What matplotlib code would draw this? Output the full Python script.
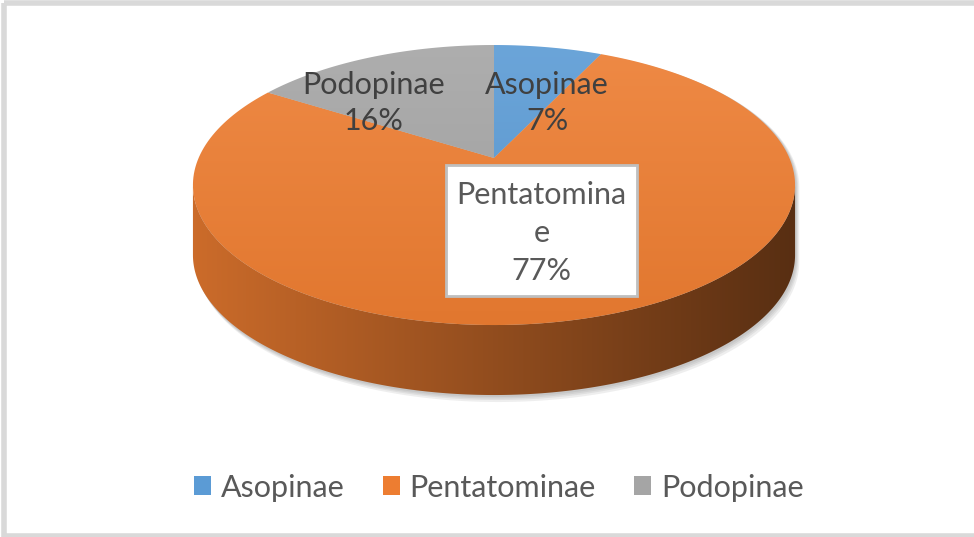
import numpy as np
import matplotlib
matplotlib.use("Agg")
import matplotlib.pyplot as plt
from matplotlib.patches import Polygon, Rectangle, Patch
from matplotlib.colors import to_rgb

# ---- data ----
categories = ["Asopinae", "Pentatominae", "Podopinae"]
values = [7, 77, 16]
label_texts = ["Asopinae\n7%", "Pentatomina\ne\n77%", "Podopinae\n16%"]
colors = ["#5B9BD5", "#ED7D31", "#A5A5A5"]

plt.rcParams['font.family'] = ['Lato', 'DejaVu Sans']

W, H = 974, 537
fig = plt.figure(figsize=(W / 100, H / 100), dpi=100)
ax = fig.add_axes([0, 0, 1, 1])
ax.set_xlim(0, W)
ax.set_ylim(H, 0)
ax.axis('off')

# ---- projection of the tilted disc (perspective) ----
CX, CY, DV, K, A = 494.0, 158.0, -104.3, 0.193, 295.4
DEPTH = 70.0


def proj(theta):
    u = np.sin(theta)
    v = np.cos(theta)
    w = 1 + K * v
    return CX + A * u / w, (CY + DV * v) / w


def shade(c, f):
    r = np.array(to_rgb(c))
    if f >= 1:
        return r + (1 - r) * (f - 1)
    return r * f


def grad_image(c_from, c_to, horizontal, n=256):
    t = np.linspace(0, 1, n)
    cols = np.outer(1 - t, c_from) + np.outer(t, c_to)
    if horizontal:
        return cols[np.newaxis, :, :]
    return cols[:, np.newaxis, :]


fracs = np.array(values, float) / np.sum(values)
starts = np.concatenate([[0], np.cumsum(fracs)[:-1]]) * 2 * np.pi
ends = np.cumsum(fracs) * 2 * np.pi

front_a = np.arccos(-K)
front_b = 2 * np.pi - np.arccos(-K)

# ---- soft shadow ----
for off in [7, 5, 3.5, 2]:
    pts_top_back = [proj(t) for t in np.linspace(front_b - 2 * np.pi, front_a, 200)]
    pts_bottom = [(x + off * 0.6, y + DEPTH + off) for (x, y) in
                  [proj(t) for t in np.linspace(front_a, front_b, 200)]]
    pts = [(x + off * 0.6, y + off * 0.3) for (x, y) in pts_top_back] + pts_bottom
    ax.add_patch(Polygon(pts, closed=True, facecolor='#606060', edgecolor='none',
                         alpha=0.10, zorder=1))

# ---- side walls ----
xl, _ = proj(front_a)
xr, _ = proj(front_b)
for s, e, c in zip(starts, ends, colors):
    a0, a1 = max(s, front_a), min(e, front_b)
    if a1 <= a0:
        continue
    t = np.linspace(a0, a1, 200)
    x, y = proj(t)
    pts = list(zip(x, y)) + list(zip(x[::-1], y[::-1] + DEPTH))
    poly = Polygon(pts, closed=True, facecolor='none', edgecolor='none', zorder=2)
    ax.add_patch(poly)
    img = grad_image(shade(c, 0.86), shade(c, 0.37), horizontal=True)
    im = ax.imshow(img, extent=[min(xl, xr) - 2, max(xl, xr) + 2, H, 0],
                   aspect='auto', origin='upper', zorder=2, interpolation='bilinear')
    im.set_clip_path(poly)

# ---- top faces ----
apex = (CX, CY)
for s, e, c in zip(starts, ends, colors):
    t = np.linspace(s, e, 200)
    x, y = proj(t)
    pts = [apex] + list(zip(x, y))
    poly = Polygon(pts, closed=True, facecolor='none', edgecolor='none', zorder=3)
    ax.add_patch(poly)
    img = grad_image(shade(c, 1.10), shade(c, 0.95), horizontal=False)
    im = ax.imshow(img, extent=[150, 850, 330, 40], aspect='auto', origin='upper',
                   zorder=3, interpolation='bilinear')
    im.set_clip_path(poly)

ax.set_xlim(0, W)
ax.set_ylim(H, 0)

# ---- data labels ----
FS = 22
ax.text(547, 103, label_texts[0], ha='center', va='center', fontsize=FS,
        color='#404040', linespacing=1.34, zorder=5)
ax.text(374, 103, label_texts[2], ha='center', va='center', fontsize=FS,
        color='#404040', linespacing=1.34, zorder=5)
ax.add_patch(Rectangle((446, 165), 191, 131, facecolor='white',
                       edgecolor='#bfbfbf', lw=2, zorder=4))
ax.text(541.5, 233, label_texts[1], ha='center', va='center', fontsize=FS,
        color='#595959', linespacing=1.42, zorder=5)

# ---- legend ----
handles = [Patch(facecolor=c, edgecolor='none') for c in colors]
leg = ax.legend(handles, categories, loc='center', bbox_to_anchor=(0.512, 0.092),
                ncol=3, frameon=False, fontsize=FS, handlelength=0.56,
                handleheight=0.56, handletextpad=0.33, columnspacing=1.24)
for txt in leg.get_texts():
    txt.set_color('#595959')

# ---- outer frame ----
ax.add_patch(Rectangle((3.5, 3.0), W + 10, H - 4.0, facecolor='none',
                       edgecolor='#d9d9d9', lw=4, zorder=6))

fig.savefig("out.png", dpi=100)
